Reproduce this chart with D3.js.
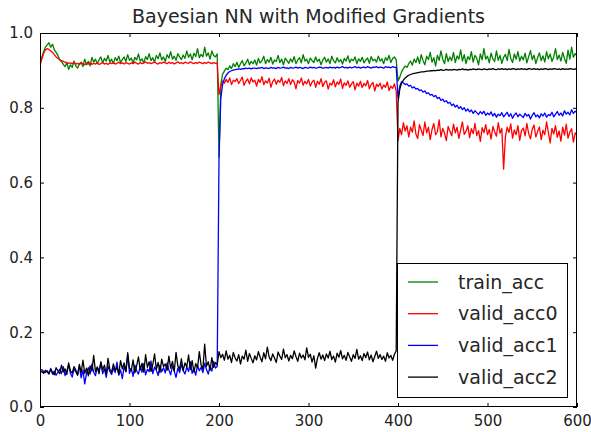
<!DOCTYPE html>
<html><head><meta charset="utf-8">
<script src="https://cdn.jsdelivr.net/npm/d3@7"></script>
<style>body{margin:0;background:#fff} text{font-family:"DejaVu Sans",sans-serif}</style>
</head><body><svg id="chart" width="591" height="432"></svg>
<script>
const chartTitle = "Bayesian NN with Modified Gradients";
const seriesNames = ["train_acc", "valid_acc0", "valid_acc1", "valid_acc2"];
const seriesColors = ["#008000", "#ff0000", "#0000ff", "#000000"];
const xTicks = [0, 100, 200, 300, 400, 500, 600];
const yTicks = [0.0, 0.2, 0.4, 0.6, 0.8, 1.0];
const epochs = d3.range(0, 601, 2);

const trainAcc = [
0.918,0.935,0.950,0.962,0.968,0.974,0.962,0.970,0.955,0.948,
0.940,0.928,0.924,0.916,0.910,0.921,0.903,0.915,0.908,0.925,
0.912,0.906,0.918,0.922,0.910,0.930,0.915,0.924,0.912,0.935,
0.922,0.930,0.918,0.928,0.936,0.920,0.932,0.925,0.940,0.922,
0.930,0.918,0.934,0.926,0.938,0.921,0.929,0.936,0.924,0.942,
0.927,0.933,0.919,0.935,0.928,0.944,0.925,0.931,0.920,0.937,
0.929,0.945,0.926,0.934,0.922,0.940,0.931,0.947,0.928,0.936,
0.924,0.942,0.933,0.950,0.930,0.938,0.927,0.945,0.936,0.929,
0.941,0.932,0.952,0.935,0.944,0.928,0.946,0.937,0.958,0.934,
0.943,0.936,0.962,0.938,0.947,0.930,0.952,0.940,0.936,0.944,
0.668,
0.862,0.890,0.898,0.906,0.902,0.912,0.905,0.918,0.910,
0.922,0.908,0.918,0.926,0.912,0.920,0.930,0.915,0.924,0.918,
0.928,0.914,0.932,0.920,0.926,0.938,0.918,0.929,0.922,0.935,
0.917,0.928,0.924,0.940,0.921,0.930,0.915,0.933,0.926,0.919,
0.931,0.922,0.937,0.918,0.928,0.934,0.920,0.942,0.925,0.930,
0.918,0.933,0.926,0.921,0.936,0.924,0.930,0.915,0.928,0.935,
0.922,0.931,0.918,0.938,0.926,0.920,0.934,0.923,0.929,0.917,
0.932,0.925,0.939,0.921,0.930,0.926,0.936,0.918,0.931,0.924,
0.935,0.920,0.928,0.933,0.919,0.937,0.926,0.930,0.922,0.938,
0.925,0.931,0.918,0.934,0.927,0.940,0.921,0.932,0.936,0.928,
0.872,
0.882,0.896,0.905,0.912,0.908,0.918,0.925,0.914,0.930,
0.921,0.936,0.918,0.942,0.926,0.915,0.938,0.929,0.948,0.922,
0.934,0.912,0.940,0.927,0.952,0.930,0.918,0.945,0.924,0.936,
0.926,0.948,0.921,0.939,0.930,0.955,0.925,0.942,0.918,0.937,
0.929,0.950,0.922,0.940,0.933,0.915,0.944,0.928,0.958,0.930,
0.938,0.920,0.946,0.931,0.924,0.952,0.927,0.940,0.919,0.935,
0.943,0.926,0.956,0.932,0.921,0.944,0.930,0.950,0.925,0.938,
0.928,0.946,0.920,0.937,0.953,0.929,0.941,0.918,0.934,0.947,
0.926,0.939,0.922,0.950,0.931,0.944,0.924,0.936,0.958,0.929,
0.941,0.925,0.948,0.932,0.919,0.954,0.930,0.962,0.935,0.945,
0.938];

const validAcc0 = [
0.912,0.930,0.945,0.955,0.958,0.956,0.952,0.948,0.942,0.936,
0.932,0.929,0.926,0.924,0.922,0.921,0.919,0.920,0.918,0.921,
0.917,0.919,0.916,0.920,0.918,0.915,0.919,0.917,0.921,0.916,
0.919,0.917,0.920,0.916,0.918,0.921,0.917,0.919,0.916,0.920,
0.918,0.921,0.917,0.919,0.922,0.918,0.920,0.917,0.921,0.919,
0.917,0.920,0.918,0.922,0.919,0.917,0.921,0.918,0.920,0.923,
0.919,0.921,0.918,0.920,0.922,0.919,0.917,0.921,0.919,0.922,
0.920,0.918,0.922,0.919,0.921,0.917,0.920,0.923,0.919,0.921,
0.918,0.922,0.920,0.919,0.923,0.920,0.918,0.921,0.919,0.922,
0.920,0.918,0.921,0.919,0.922,0.920,0.918,0.921,0.919,0.920,
0.835,
0.858,0.872,0.866,0.876,0.868,0.880,0.862,0.874,0.870,
0.878,0.865,0.873,0.882,0.860,0.871,0.877,0.864,0.880,0.869,
0.874,0.858,0.876,0.868,0.883,0.862,0.872,0.866,0.879,0.855,
0.870,0.877,0.863,0.874,0.868,0.881,0.859,0.872,0.865,0.878,
0.862,0.875,0.869,0.851,0.873,0.866,0.880,0.860,0.871,0.864,
0.876,0.858,0.869,0.874,0.855,0.871,0.863,0.878,0.857,0.868,
0.872,0.850,0.866,0.861,0.875,0.856,0.869,0.863,0.877,0.852,
0.867,0.860,0.872,0.855,0.864,0.870,0.848,0.866,0.858,0.871,
0.854,0.865,0.859,0.873,0.851,0.862,0.868,0.845,0.863,0.857,
0.866,0.850,0.861,0.855,0.869,0.846,0.858,0.852,0.864,0.845,
0.712,
0.745,0.728,0.760,0.738,0.752,0.722,0.748,0.735,0.765,
0.730,0.718,0.755,0.740,0.726,0.762,0.733,0.748,0.715,0.742,
0.758,0.728,0.736,0.768,0.722,0.745,0.732,0.712,0.750,0.738,
0.725,0.756,0.733,0.748,0.718,0.741,0.762,0.729,0.737,0.752,
0.720,0.744,0.731,0.758,0.726,0.739,0.710,0.747,0.733,0.755,
0.728,0.742,0.716,0.750,0.736,0.724,0.760,0.732,0.745,0.636,
0.722,0.748,0.734,0.757,0.719,0.741,0.728,0.752,0.713,0.739,
0.746,0.725,0.758,0.731,0.717,0.743,0.754,0.722,0.737,0.749,
0.715,0.740,0.728,0.762,0.734,0.706,0.745,0.730,0.752,0.721,
0.738,0.711,0.748,0.727,0.756,0.719,0.735,0.744,0.708,0.733,
0.726];

const validAcc1 = [
0.098,0.100,0.095,0.092,0.097,0.090,0.103,0.088,0.096,0.085,
0.093,0.101,0.089,0.108,0.084,0.097,0.112,0.090,0.080,0.102,
0.094,0.086,0.110,0.078,0.099,0.062,0.091,0.105,0.088,0.115,
0.093,0.084,0.106,0.097,0.118,0.089,0.102,0.079,0.110,0.095,
0.087,0.104,0.092,0.120,0.085,0.099,0.076,0.108,0.094,0.140,
0.090,0.103,0.082,0.112,0.097,0.088,0.109,0.093,0.116,0.086,
0.101,0.095,0.123,0.089,0.107,0.098,0.084,0.112,0.094,0.105,
0.091,0.118,0.099,0.086,0.110,0.096,0.079,0.104,0.092,0.114,
0.098,0.088,0.107,0.095,0.121,0.090,0.103,0.085,0.111,0.097,
0.106,0.092,0.117,0.100,0.088,0.110,0.096,0.122,0.104,0.108,
0.662,
0.825,0.862,0.878,0.887,0.893,0.897,0.899,0.901,0.902,
0.903,0.904,0.903,0.905,0.904,0.906,0.905,0.906,0.904,0.906,
0.906,0.905,0.907,0.906,0.908,0.905,0.907,0.906,0.905,0.908,
0.906,0.907,0.905,0.908,0.906,0.907,0.909,0.906,0.907,0.905,
0.908,0.906,0.907,0.909,0.906,0.908,0.907,0.905,0.908,0.907,
0.906,0.909,0.907,0.908,0.906,0.907,0.909,0.908,0.906,0.907,
0.908,0.906,0.909,0.907,0.908,0.906,0.909,0.907,0.908,0.910,
0.907,0.908,0.906,0.909,0.907,0.908,0.910,0.907,0.909,0.906,
0.908,0.909,0.907,0.910,0.908,0.906,0.909,0.908,0.910,0.907,
0.909,0.908,0.906,0.910,0.908,0.909,0.907,0.910,0.908,0.909,
0.826,
0.858,0.870,0.866,0.862,0.864,0.858,0.860,0.853,0.856,
0.850,0.852,0.846,0.848,0.842,0.845,0.838,0.840,0.834,0.836,
0.830,0.833,0.825,0.828,0.820,0.823,0.816,0.819,0.812,0.815,
0.806,0.810,0.802,0.807,0.798,0.803,0.795,0.800,0.791,0.797,
0.789,0.794,0.785,0.792,0.787,0.782,0.790,0.784,0.791,0.780,
0.786,0.781,0.789,0.778,0.785,0.775,0.783,0.779,0.787,0.776,
0.782,0.788,0.777,0.784,0.772,0.781,0.786,0.776,0.783,0.779,
0.774,0.785,0.778,0.782,0.770,0.780,0.787,0.776,0.781,0.773,
0.784,0.778,0.786,0.775,0.782,0.779,0.788,0.776,0.783,0.790,
0.780,0.786,0.778,0.792,0.783,0.788,0.781,0.795,0.785,0.791,
0.787];

const validAcc2 = [
0.092,0.095,0.090,0.098,0.094,0.088,0.101,0.093,0.086,0.105,
0.097,0.089,0.112,0.094,0.102,0.087,0.118,0.096,0.091,0.108,
0.099,0.085,0.114,0.092,0.125,0.090,0.104,0.083,0.110,0.096,
0.138,0.094,0.107,0.089,0.121,0.099,0.112,0.087,0.130,0.101,
0.093,0.115,0.098,0.106,0.088,0.124,0.102,0.118,0.095,0.145,
0.104,0.097,0.126,0.091,0.110,0.134,0.099,0.117,0.093,0.140,
0.106,0.121,0.095,0.113,0.142,0.101,0.119,0.092,0.128,0.108,
0.115,0.098,0.136,0.104,0.122,0.095,0.146,0.110,0.101,0.129,
0.097,0.118,0.107,0.139,0.100,0.124,0.093,0.116,0.105,0.148,
0.112,0.102,0.168,0.109,0.121,0.098,0.132,0.106,0.119,0.113,
0.148,
0.132,0.141,0.125,0.150,0.128,0.138,0.119,0.146,0.131,
0.123,0.140,0.115,0.136,0.128,0.152,0.122,0.143,0.130,0.118,
0.137,0.126,0.148,0.133,0.121,0.145,0.129,0.160,0.134,0.124,
0.142,0.131,0.119,0.147,0.136,0.127,0.155,0.132,0.140,0.123,
0.138,0.129,0.150,0.135,0.122,0.144,0.131,0.139,0.126,0.158,
0.133,0.141,0.120,0.137,0.104,0.130,0.145,0.128,0.139,0.124,
0.142,0.131,0.149,0.127,0.136,0.120,0.144,0.133,0.151,0.129,
0.138,0.125,0.146,0.134,0.122,0.140,0.130,0.154,0.128,0.137,
0.124,0.143,0.132,0.147,0.126,0.139,0.121,0.135,0.149,0.130,
0.140,0.127,0.136,0.122,0.145,0.131,0.138,0.125,0.141,0.150,
0.815,
0.850,0.866,0.874,0.880,0.884,0.887,0.889,0.891,0.892,
0.893,0.894,0.895,0.896,0.896,0.897,0.898,0.898,0.899,0.899,
0.900,0.899,0.901,0.900,0.902,0.900,0.901,0.903,0.901,0.902,
0.901,0.903,0.902,0.901,0.903,0.902,0.904,0.902,0.903,0.901,
0.903,0.902,0.904,0.903,0.902,0.904,0.903,0.902,0.904,0.903,
0.902,0.904,0.903,0.905,0.903,0.902,0.904,0.903,0.905,0.903,
0.904,0.902,0.904,0.903,0.905,0.904,0.902,0.904,0.903,0.905,
0.903,0.904,0.902,0.905,0.904,0.903,0.905,0.903,0.904,0.902,
0.904,0.903,0.905,0.904,0.902,0.904,0.903,0.905,0.904,0.903,
0.904,0.902,0.905,0.903,0.904,0.903,0.905,0.904,0.903,0.904,
0.903];

const allSeries = [trainAcc, validAcc0, validAcc1, validAcc2];

const svg = d3.select("#chart");
const L = 40, R = 577, T = 33, B = 407;
const x = d3.scaleLinear().domain([0, 600]).range([L, R]);
const y = d3.scaleLinear().domain([0, 1]).range([B, T]);

svg.append("rect").attr("width", 591).attr("height", 432).attr("fill", "#fff");

svg.append("defs").append("clipPath").attr("id", "clip")
  .append("rect").attr("x", L).attr("y", T).attr("width", R - L).attr("height", B - T);

const line = d3.line()
  .defined(d => d != null)
  .x((d, i) => x(epochs[i]))
  .y(d => y(d));

const g = svg.append("g").attr("clip-path", "url(#clip)");
allSeries.forEach((s, k) => {
  g.append("path").datum(s)
    .attr("fill", "none")
    .attr("stroke", seriesColors[k])
    .attr("stroke-width", 1.3)
    .attr("stroke-linejoin", "round")
    .attr("d", line);
});

const tickColor = "#222";
function styleAxis(sel, fontSize) {
  sel.select(".domain").remove();
  sel.selectAll(".tick line").attr("stroke", "#000");
  sel.selectAll(".tick text").attr("fill", tickColor)
    .style("font-size", fontSize + "px").style("font-family", "DejaVu Sans");
}
svg.append("g").attr("transform", `translate(0,${B})`)
  .call(d3.axisBottom(x).tickValues(xTicks).tickSize(-4).tickPadding(8).tickFormat(d3.format("d")))
  .call(s => styleAxis(s, 15));
svg.append("g").attr("transform", `translate(0,${T})`)
  .call(d3.axisTop(x).tickValues(xTicks).tickSize(-4).tickFormat(""))
  .call(s => styleAxis(s, 15));
svg.append("g").attr("transform", `translate(${L},0)`)
  .call(d3.axisLeft(y).tickValues(yTicks).tickSize(-4).tickPadding(7).tickFormat(d3.format(".1f")))
  .call(s => styleAxis(s, 15));
svg.append("g").attr("transform", `translate(${R},0)`)
  .call(d3.axisRight(y).tickValues(yTicks).tickSize(-4).tickFormat(""))
  .call(s => styleAxis(s, 15));

svg.append("rect").attr("x", L + 0.5).attr("y", T + 0.5)
  .attr("width", R - L - 1).attr("height", B - T - 1)
  .attr("fill", "none").attr("stroke", "#000").attr("stroke-width", 1);

svg.append("text").attr("x", (L + R) / 2).attr("y", 23)
  .attr("text-anchor", "middle").attr("fill", "#262626")
  .style("font-size", "19px").text(chartTitle);

const lg = svg.append("g");
lg.append("rect").attr("x", 397.5).attr("y", 263.5).attr("width", 170).attr("height", 134)
  .attr("fill", "#fff").attr("stroke", "#000").attr("stroke-width", 1);
seriesNames.forEach((n, k) => {
  const yy = 282 + k * 31.7;
  lg.append("line").attr("x1", 408).attr("x2", 438).attr("y1", yy).attr("y2", yy)
    .attr("stroke", seriesColors[k]).attr("stroke-width", 1.3);
  lg.append("text").attr("x", 458).attr("y", yy).attr("dy", "0.35em")
    .attr("fill", "#262626").style("font-size", "19px").text(n);
});
</script></body></html>
